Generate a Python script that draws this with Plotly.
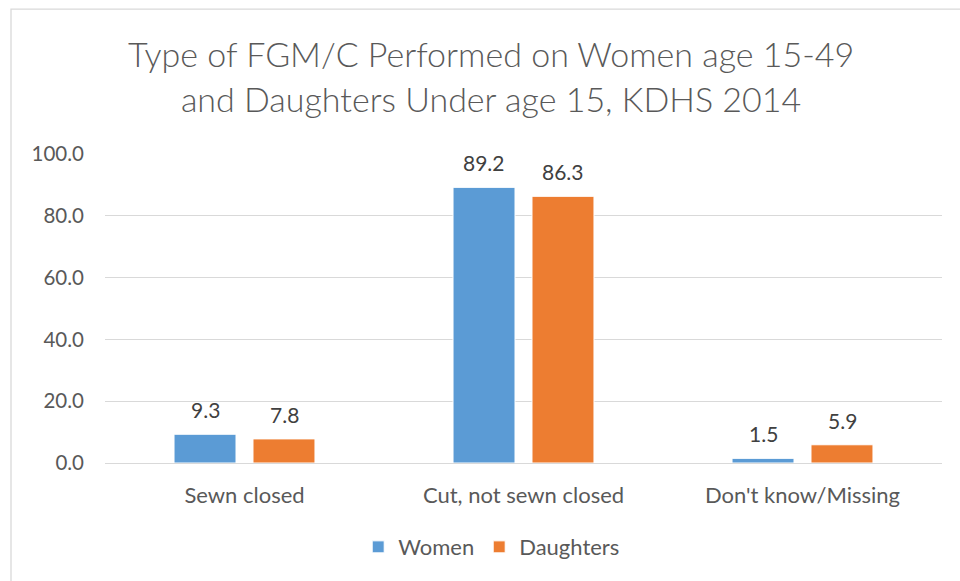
import plotly.graph_objects as go

categories = ["Sewn closed", "Cut, not sewn closed", "Don't know/Missing"]
women = [9.3, 89.2, 1.5]
daughters = [7.8, 86.3, 5.9]
y_ticks = [0, 20, 40, 60, 80, 100]

FONT = "Lato"
TEXT = "#595959"
GRID = "#D9D9D9"
SLOT_PX = 39.5  # horizontal offset of each bar from its category centre

series = [("Women", women, "#5B9BD5", -SLOT_PX), ("Daughters", daughters, "#ED7D31", SLOT_PX)]

fig = go.Figure()
annotations = []
for name, vals, color, shift in series:
    fig.add_trace(go.Bar(
        name=name, x=categories, y=vals,
        marker=dict(color=color, line=dict(color="white", width=1)),
    ))
    for cat, v in zip(categories, vals):
        annotations.append(dict(
            x=cat, y=v, xref="x", yref="y", text=f"{v:.1f}", showarrow=False,
            xshift=shift, yanchor="bottom", yshift=10,
            font=dict(family=FONT, size=21, color="#404040"),
        ))

fig.update_layout(
    width=960, height=581,
    margin=dict(l=105, r=18, t=154, b=118),
    paper_bgcolor="white", plot_bgcolor="white",
    font=dict(family=FONT, color=TEXT),
    title=dict(
        text="Type of FGM/C Performed on Women age 15-49<br>and Daughters Under age 15, KDHS 2014",
        x=0.5115, xanchor="center", y=0.884, yanchor="middle",
        font=dict(family=FONT, size=34, color=TEXT, weight=300),
    ),
    barmode="group", bargap=0.434, bargroupgap=0.215,
    showlegend=True,
    legend=dict(orientation="h", x=0.462, xanchor="center", y=-0.272, yanchor="middle",
                font=dict(family=FONT, size=22, color=TEXT), traceorder="normal",
                itemwidth=30),
    xaxis=dict(showgrid=False, showline=True, linecolor=GRID, linewidth=1.3,
               ticks="", ticklabelstandoff=12, tickfont=dict(family=FONT, size=22, color=TEXT)),
    yaxis=dict(range=[0, 100], tickvals=y_ticks, ticktext=[f"{v:.1f}" for v in y_ticks],
               showgrid=True, gridcolor=GRID, gridwidth=1.3, zeroline=False, showline=False,
               ticks="", ticklabelstandoff=20, tickfont=dict(family=FONT, size=20.5, color=TEXT)),
    annotations=annotations,
    shapes=[dict(type="rect", xref="paper", yref="paper",
                 x0=-0.1123, x1=1.03, y0=-0.42, y1=1.469,
                 line=dict(color=GRID, width=1.3), fillcolor="rgba(0,0,0,0)", layer="below")],
)

fig.write_html("out.html")
